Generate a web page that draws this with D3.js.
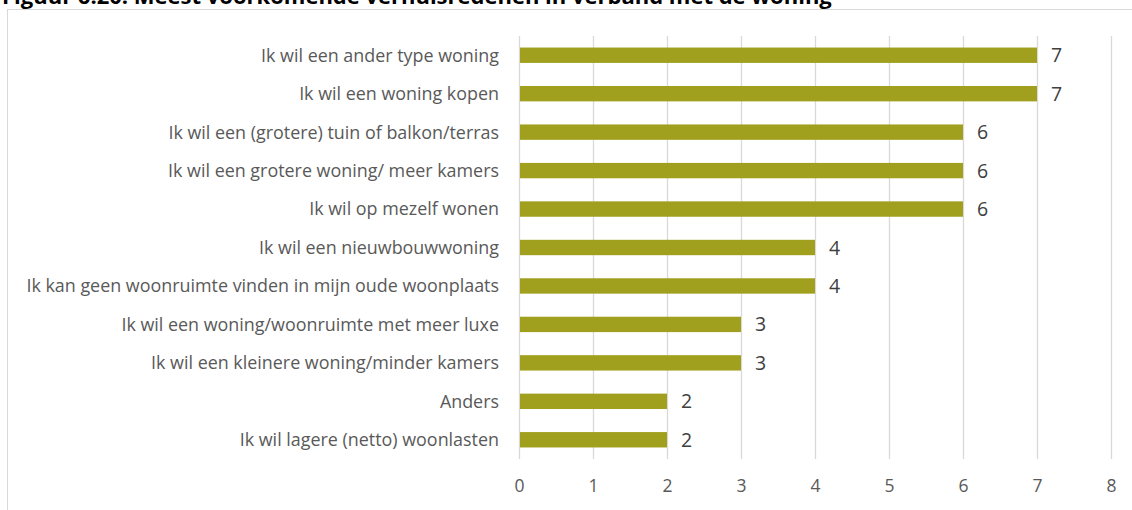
<!DOCTYPE html>
<html><head><meta charset="utf-8">
<script src="https://cdn.jsdelivr.net/npm/d3@7"></script>
<style>body{margin:0;background:#fff;}svg{display:block;}</style>
</head><body>
<svg id="c" width="1132" height="510"></svg>
<script>
const categories = [
  "Ik wil een ander type woning",
  "Ik wil een woning kopen",
  "Ik wil een (grotere) tuin of balkon/terras",
  "Ik wil een grotere woning/ meer kamers",
  "Ik wil op mezelf wonen",
  "Ik wil een nieuwbouwwoning",
  "Ik kan geen woonruimte vinden in mijn oude woonplaats",
  "Ik wil een woning/woonruimte met meer luxe",
  "Ik wil een kleinere woning/minder kamers",
  "Anders",
  "Ik wil lagere (netto) woonlasten"
];
const values = [7, 7, 6, 6, 6, 4, 4, 3, 3, 2, 2];
const xTicks = [0, 1, 2, 3, 4, 5, 6, 7, 8];
const title = "Figuur 6.20: Meest voorkomende verhuisredenen in verband met de woning";

const font = "'Open Sans', 'Noto Sans', sans-serif";
const svg = d3.select("#c");

svg.append("rect").attr("x", 7.5).attr("y", 9.5).attr("width", 1200).attr("height", 600)
  .attr("fill", "#fff").attr("stroke", "#d9d9d9").attr("stroke-width", 1);

svg.append("text").attr("x", 2).attr("y", 4).text(title)
  .attr("font-family", font).attr("font-weight", "bold").attr("font-size", 22).attr("fill", "#000");

const x = d3.scaleLinear().domain([0, 8]).range([519, 1111]);
const y = d3.scaleBand().domain(categories).range([36, 459]).paddingInner(0.6).paddingOuter(0.3);

const g = svg.append("g");
g.selectAll("line.grid").data(xTicks).join("line")
  .attr("x1", d => x(d) + 0.5).attr("x2", d => x(d) + 0.5)
  .attr("y1", 36).attr("y2", 459)
  .attr("stroke", "#d9d9d9").attr("stroke-width", 1.3);

g.selectAll("rect.bar").data(values).join("rect")
  .attr("x", x(0) + 1).attr("y", (d, i) => y(categories[i]))
  .attr("width", d => x(d) - x(0) - 1).attr("height", y.bandwidth())
  .attr("fill", "#a0a01e");

g.selectAll("text.val").data(values).join("text")
  .attr("x", d => x(d) + 14).attr("y", (d, i) => y(categories[i]) + y.bandwidth() / 2)
  .attr("dy", "0.36em").text(d => d)
  .attr("font-family", font).attr("font-size", 19.5).attr("fill", "#404040");

g.selectAll("text.cat").data(categories).join("text")
  .attr("x", 499).attr("y", d => y(d) + y.bandwidth() / 2)
  .attr("dy", "0.36em").attr("text-anchor", "end").text(d => d)
  .attr("font-family", font).attr("font-size", 17.9).attr("fill", "#595959");

const axis = d3.axisBottom(x).tickValues(xTicks).tickSize(0).tickPadding(0);
const ax = svg.append("g").attr("transform", "translate(0,480)").call(axis);
ax.select(".domain").remove();
ax.selectAll("text").attr("font-family", font).attr("font-size", 17.5).attr("fill", "#595959").attr("dy", "0.71em");
</script>
</body></html>
